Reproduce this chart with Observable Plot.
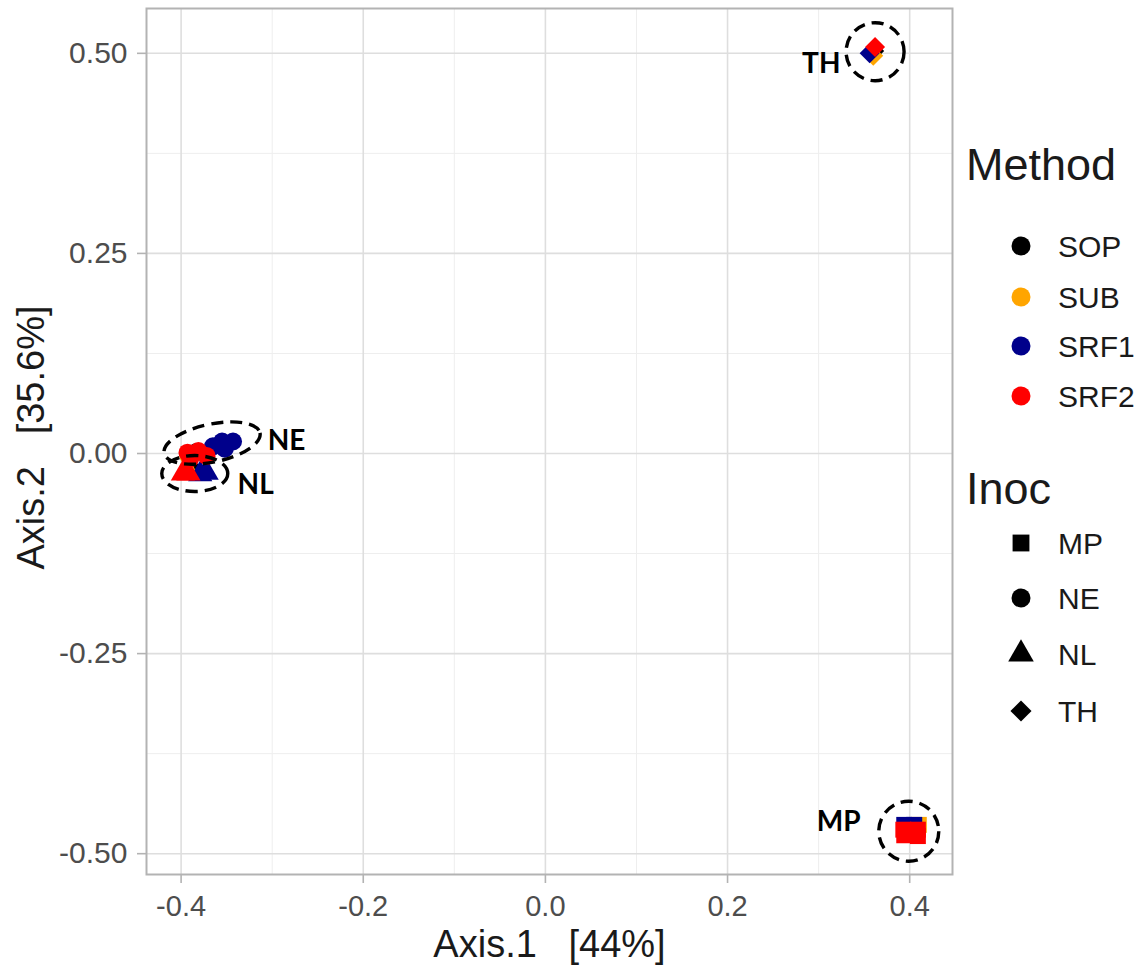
<!DOCTYPE html>
<html>
<head>
<meta charset="utf-8">
<script src="https://cdn.jsdelivr.net/npm/d3@7"></script>
<script src="https://cdn.jsdelivr.net/npm/@observablehq/plot@0.6"></script>
<style>
  body { margin: 0; background: #ffffff; }
  #chart { width: 1144px; height: 973px; }
</style>
</head>
<body>
<div id="chart"></div>
<script>
// Legend categories
const methods = ["SOP", "SUB", "SRF1", "SRF2"];
const methodColors = ["#000000", "#FFA500", "#00008B", "#FF0000"];
const inocs = ["MP", "NE", "NL", "TH"];
const inocSymbols = ["square", "circle", "triangle", "diamond2"];

// PCoA scores, one entry per sample (drawn in this order)
const sampleMethod = [
  "SOP", "SOP", "SOP", "SOP",
  "SUB", "SUB", "SUB", "SUB",
  "SRF1", "SRF1", "SRF1", "SRF1", "SRF1", "SRF1", "SRF1", "SRF1", "SRF1", "SRF1",
  "SRF2", "SRF2", "SRF2", "SRF2", "SRF2", "SRF2", "SRF2", "SRF2", "SRF2", "SRF2", "SRF2"
];
const sampleInoc = [
  "MP", "NE", "NL", "TH",
  "MP", "NE", "NL", "TH",
  "MP", "MP", "MP", "NE", "NE", "NE", "NE", "NL", "NL", "TH",
  "MP", "MP", "MP", "MP", "NE", "NE", "NE", "NE", "NL", "NL", "TH"
];
const axis1 = [
  0.401, -0.383, -0.385, 0.361,
  0.410, -0.392, -0.393, 0.360,
  0.394, 0.405, 0.400, -0.365, -0.355, -0.343, -0.352, -0.379, -0.372, 0.356,
  0.393, 0.409, 0.394, 0.409, -0.393, -0.381, -0.372, -0.390, -0.398, -0.392, 0.362
];
const axis2 = [
  -0.474, 0.002, -0.024, 0.503,
  -0.464, -0.003, -0.021, 0.497,
  -0.464, -0.464, -0.466, 0.009, 0.015, 0.015, 0.006, -0.026, -0.024, 0.500,
  -0.470, -0.470, -0.477, -0.478, 0.001, 0.003, -0.003, -0.006, -0.025, -0.025, 0.508
];

// Group annotations: ring centre and label anchor, in score units
const groupNames = ["NE", "NL", "TH", "MP"];
const ringX = [-0.366, -0.385, 0.362, 0.399];
const ringY = [0.013, -0.025, 0.502, -0.472];
const labelX = [-0.305, -0.338, 0.324, 0.346];
const labelY = [0.016, -0.040, 0.487, -0.461];
const labelSide = ["right", "right", "left", "left"];

// Axis ticks
const xMajor = [-0.4, -0.2, 0.0, 0.2, 0.4];
const xMinor = [-0.3, -0.1, 0.1, 0.3];
const yMajor = [-0.5, -0.25, 0.0, 0.25, 0.5];
const yMinor = [-0.375, -0.125, 0.125, 0.375];

const samples = sampleMethod.map((m, i) => ({
  method: m, inoc: sampleInoc[i], a1: axis1[i], a2: axis2[i]
}));
const groups = groupNames.map((g, i) => ({
  name: g, cx: ringX[i], cy: ringY[i], lx: labelX[i], ly: labelY[i], side: labelSide[i]
}));

// Elliptical outline usable as a Plot dot symbol (aspect = ry / rx)
function ellipse(aspect) {
  return {
    draw(ctx, size) {
      const a = Math.sqrt(size / Math.PI), b = a * aspect, k = 0.5523;
      ctx.moveTo(a, 0);
      ctx.bezierCurveTo(a, k * b, k * a, b, 0, b);
      ctx.bezierCurveTo(-k * a, b, -a, k * b, -a, 0);
      ctx.bezierCurveTo(-a, -k * b, -k * a, -b, 0, -b);
      ctx.bezierCurveTo(k * a, -b, a, -k * b, a, 0);
      ctx.closePath();
    }
  };
}

function ring(name, rx, ry, angle) {
  return Plot.dot(groups.filter(d => d.name === name), {
    x: "cx", y: "cy", r: rx, symbol: ellipse(ry / rx), rotate: angle,
    fill: "none", stroke: "#000", strokeWidth: 3.4,
    strokeDasharray: "12,7"
  });
}

function groupLabels(side) {
  return Plot.text(groups.filter(d => d.side === side), {
    x: "lx", y: "ly", text: "name",
    textAnchor: side === "right" ? "start" : "end",
    fontSize: 28, fontWeight: "bold", fill: "#000",
    fontFamily: "Lato, 'Open Sans', sans-serif"
  });
}

// ggplot-style labels with an ASCII hyphen for negatives
const fmt = p => d => d3.format(`.${p}f`)(d).replace("\u2212", "-");

const FONT = "'Liberation Sans', Arial, sans-serif";

const chart = Plot.plot({
  width: 1144,
  height: 973,
  marginLeft: 146,
  marginRight: 192,
  marginTop: 8,
  marginBottom: 99,
  style: { fontFamily: FONT, background: "#ffffff" },
  x: { domain: [-0.438, 0.447] },
  y: { domain: [-0.526, 0.556] },
  color: { domain: methods, range: methodColors },
  symbol: { domain: inocs, range: inocSymbols },
  marks: [
    Plot.ruleX(xMinor, { stroke: "#eeeeee", strokeWidth: 1 }),
    Plot.ruleY(yMinor, { stroke: "#eeeeee", strokeWidth: 1 }),
    Plot.ruleX(xMajor, { stroke: "#dedede", strokeWidth: 1.6 }),
    Plot.ruleY(yMajor, { stroke: "#dedede", strokeWidth: 1.6 }),
    Plot.axisX(xMajor, {
      tickSize: 9, tickPadding: 12, stroke: "#b3b3b3", strokeWidth: 1.6,
      tickFormat: fmt(1), fontSize: 29, fill: "#4d4d4d", label: null
    }),
    Plot.axisY(yMajor, {
      tickSize: 9, tickPadding: 10, stroke: "#b3b3b3", strokeWidth: 1.6,
      tickFormat: fmt(2), fontSize: 30, fill: "#4d4d4d", label: null
    }),
    Plot.text(["Axis.1   [44%]"], {
      frameAnchor: "bottom", dy: 82, fontSize: 38, fill: "#1a1a1a"
    }),
    Plot.text(["Axis.2   [35.6%]"], {
      frameAnchor: "left", textAnchor: "middle", dx: -115, dy: -4,
      rotate: -90, fontSize: 38, fill: "#1a1a1a"
    }),
    Plot.dot(samples, {
      x: "a1", y: "a2", fill: "method", symbol: "inoc", r: 9, stroke: "none"
    }),
    ring("NE", 49, 19, -12),
    ring("NL", 33, 18, 0),
    ring("TH", 29, 29, 0),
    ring("MP", 30, 30, 0),
    groupLabels("right"),
    groupLabels("left"),
    Plot.frame({ stroke: "#b3b3b3", strokeWidth: 2 })
  ]
});

// Legend keys drawn into the same SVG, to the right of the panel
const symbolTypes = {
  square: d3.symbolSquare, circle: d3.symbolCircle,
  triangle: d3.symbolTriangle, diamond2: d3.symbolDiamond2
};
const svg = d3.select(chart);
const legend = svg.append("g")
  .attr("font-family", FONT)
  .attr("text-anchor", "start");

function legendBlock(title, titleY, labels, ys, keyFor) {
  legend.append("text").attr("x", 966).attr("y", titleY)
    .attr("font-size", 45).attr("fill", "#1a1a1a").text(title);
  labels.forEach((lab, i) => {
    const k = keyFor(i);
    legend.append("path")
      .attr("transform", `translate(1021,${ys[i]})`)
      .attr("d", d3.symbol(symbolTypes[k.symbol], Math.PI * 9.5 * 9.5)())
      .attr("fill", k.color);
    legend.append("text").attr("x", 1058).attr("y", ys[i])
      .attr("dy", "0.36em").attr("font-size", 30).attr("fill", "#1a1a1a").text(lab);
  });
}
legendBlock("Method", 180, methods, [246, 297, 346, 396],
  i => ({ symbol: "circle", color: methodColors[i] }));
legendBlock("Inoc", 504, inocs, [543, 598, 654, 711],
  i => ({ symbol: inocSymbols[i], color: "#000" }));

document.getElementById("chart").appendChild(chart);
</script>
</body>
</html>
